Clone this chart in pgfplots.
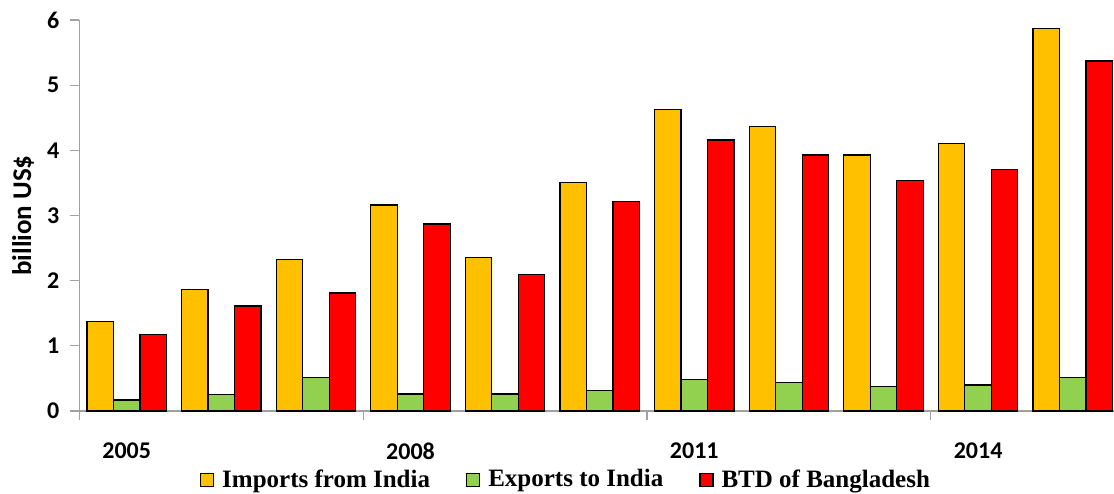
\documentclass[border=0pt]{standalone}
\usepackage{fontspec}
\setmainfont{Carlito}
\newfontfamily\legendfont{Liberation Serif}
\usepackage{pgfplots}
\usepackage{pgfplotstable}
\pgfplotsset{compat=1.18}

\definecolor{impcol}{RGB}{255,192,0}
\definecolor{expcol}{RGB}{146,208,80}
\definecolor{btdcol}{RGB}{255,0,0}
\definecolor{axgray}{RGB}{160,160,160}

% trade with India, billion US$ (2005 = 0 ... 2015 = 10)
\pgfplotstableread{
x  imp   exp   btd
0  1.37  0.17  1.18
1  1.87  0.25  1.61
2  2.33  0.52  1.81
3  3.16  0.26  2.87
4  2.35  0.26  2.09
5  3.51  0.31  3.21
6  4.63  0.48  4.16
7  4.37  0.44  3.93
8  3.93  0.38  3.54
9  4.11  0.40  3.71
10 5.87  0.52  5.37
}\trade

\pgfplotsset{
  sqlegend/.style={legend image code/.code={
    \draw[##1,draw=black,line width=0.6pt] (0pt,-3.25pt) rectangle (6.5pt,3.25pt);}}
}

\begin{document}
\begin{tikzpicture}
\path[use as bounding box] (0,0) rectangle (557pt,246.5pt);
\begin{axis}[
  at={(39.7pt,41pt)}, anchor=south west,
  scale only axis, width=520.3pt, height=195.5pt,
  ybar=0pt, bar width=13.25pt,
  xmin=-0.5, xmax=10.5, ymin=0, ymax=6,
  ytick={0,1,...,6},
  xtick={-0.5,2.5,5.5,8.5},
  xticklabels={2005,2008,2011,2014},
  axis lines*=left,
  axis line style={-, draw=axgray, line width=0.65pt},
  tick style={draw=axgray, line width=0.65pt},
  tick align=outside, major tick length=4.5pt,
  /pgf/number format/assume math mode=true,
  tick label style={font=\bfseries\fontsize{12}{14}\selectfont},
  xticklabel style={xshift=23.65pt, yshift=-8pt},
  yticklabel style={xshift=-2pt},
  ylabel={billion US\$},
  ylabel style={at={(axis description cs:-0.0542,0.5)}, anchor=center,
    font=\bfseries\fontsize{13.5}{16}\selectfont},
  legend columns=3,
  legend style={at={(0.4676,-0.176)}, anchor=center, draw=none, fill=none,
    font=\legendfont\bfseries\fontsize{12.5}{14}\selectfont,
    /tikz/every odd column/.append style={column sep=3pt},
    /tikz/every even column/.append style={column sep=17pt},
    nodes={inner sep=1pt}},
]
\addplot[fill=impcol, draw=black, line width=0.6pt, sqlegend] table[x=x, y=imp] {\trade};
\addplot[fill=expcol, draw=black, line width=0.6pt, sqlegend] table[x=x, y=exp] {\trade};
\addplot[fill=btdcol, draw=black, line width=0.6pt, sqlegend] table[x=x, y=btd] {\trade};
\legend{Imports from India, Exports to India, BTD of Bangladesh}
\end{axis}
\end{tikzpicture}
\end{document}
